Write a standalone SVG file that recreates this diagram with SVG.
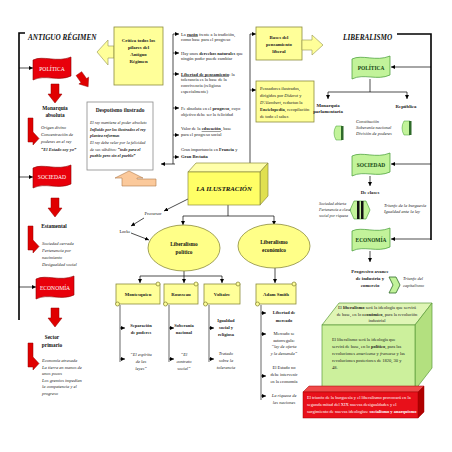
<svg xmlns="http://www.w3.org/2000/svg" width="452" height="452" viewBox="0 0 452 452">
<defs>
<style>
.t{font-family:"Liberation Serif","Times New Roman",serif;font-size:4.5px;fill:#222}
.b{font-weight:bold}
.i{font-style:italic}
.c{text-anchor:middle}
.s40{font-size:4px}
.s42{font-size:4.2px}
.s48{font-size:4.8px}
.s53{font-size:5.4px}
.s65{font-size:6.8px;fill:#111}
.lbl{font-size:5.3px;font-weight:bold;fill:#111}
.ttl{font-size:7.2px;font-weight:bold;font-style:italic;fill:#111}
.u{text-decoration:underline}
.wh{fill:#fff}
.ln{stroke:#000;stroke-width:0.7;fill:none}
.bk{stroke:#000;stroke-width:1.6;fill:none}
.gl{stroke:#9a9a9a;stroke-width:1.5;fill:none}
.yb{fill:#ffff99;stroke:#8c8c3c;stroke-width:0.8}
.rf{fill:#e8000b;stroke:#8b0000;stroke-width:0.6}
.ra{fill:#e00000;stroke:#900000;stroke-width:0.5}
.gf{fill:#c2f39a;stroke:#3f9a2f;stroke-width:0.7}
.wt{fill:#fff;font-size:5.6px}
.gt{fill:#114411;font-size:5.4px;font-weight:bold}
</style>
<marker id="a" markerWidth="4" markerHeight="4" refX="4" refY="2" orient="auto" markerUnits="userSpaceOnUse"><path d="M0,0 L4,2 L0,4 Z" fill="#000"/></marker>
<path id="flag" d="M0,3 C10,-2 24,6 38,0 L38,19 C25,25 12,17 0,23 Z"/>
<path id="darrow" d="M3,0 H11 V10 H14 L7,19 L0,10 H3 Z"/>
<path id="larrow" d="M0,0 H5 V14 L11,20.5 L5,27 V24 H0 Z"/>
</defs>
<rect width="452" height="452" fill="#fff"/>

<g id="connectors">
<path class="bk" d="M25,33 H19 V320"/>
<line class="ln" x1="19" y1="68" x2="33" y2="68" marker-end="url(#a)"/>
<line class="ln" x1="19" y1="177" x2="33" y2="177" marker-end="url(#a)"/>
<line class="ln" x1="19" y1="287" x2="36" y2="287" marker-end="url(#a)"/>
<path class="bk" d="M397,34 H431 V240"/>
<line class="ln" x1="431" y1="67" x2="391" y2="67" marker-end="url(#a)"/>
<line class="ln" x1="431" y1="164" x2="391" y2="164" marker-end="url(#a)"/>
<line class="ln" x1="431" y1="239" x2="391" y2="239" marker-end="url(#a)"/>
<line class="ln" x1="173" y1="34" x2="173" y2="164"/>
<line class="ln" x1="173" y1="34" x2="179" y2="34" marker-end="url(#a)"/>
<line class="ln" x1="173" y1="53" x2="179" y2="53" marker-end="url(#a)"/>
<line class="ln" x1="173" y1="74" x2="179" y2="74" marker-end="url(#a)"/>
<line class="ln" x1="173" y1="108" x2="179" y2="108" marker-end="url(#a)"/>
<line class="ln" x1="173" y1="135" x2="179" y2="135" marker-end="url(#a)"/>
<line class="ln" x1="173" y1="157" x2="179" y2="157" marker-end="url(#a)"/>
<line class="ln" x1="175" y1="164" x2="161" y2="164" marker-end="url(#a)"/>
<line class="ln" x1="250" y1="34" x2="250" y2="163"/>
<line class="ln" x1="250" y1="34" x2="256" y2="34" marker-end="url(#a)"/>
<line class="ln" x1="250" y1="90" x2="256" y2="90" marker-end="url(#a)"/>
<line class="ln" x1="228" y1="205" x2="228" y2="216"/>
<line class="ln" x1="183" y1="216" x2="274" y2="216"/>
<line class="ln" x1="183" y1="216" x2="183" y2="225" marker-end="url(#a)"/>
<line class="ln" x1="274" y1="216" x2="274" y2="225" marker-end="url(#a)"/>
<line class="ln" x1="188" y1="199" x2="164" y2="211" marker-end="url(#a)"/>
<line class="ln" x1="144" y1="218" x2="131" y2="226" marker-end="url(#a)"/>
<line class="ln" x1="131" y1="233" x2="149" y2="240" marker-end="url(#a)"/>
<line class="ln" x1="184" y1="271" x2="184" y2="276"/>
<line class="ln" x1="140" y1="276" x2="222" y2="276"/>
<line class="ln" x1="140" y1="276" x2="140" y2="283" marker-end="url(#a)"/>
<line class="ln" x1="184" y1="276" x2="184" y2="283" marker-end="url(#a)"/>
<line class="ln" x1="222" y1="276" x2="222" y2="283" marker-end="url(#a)"/>
<line class="ln" x1="275" y1="268" x2="275" y2="283" marker-end="url(#a)"/>
<line class="ln" x1="370" y1="79" x2="370" y2="92"/>
<line class="ln" x1="328" y1="92" x2="407" y2="92"/>
<line class="ln" x1="328" y1="92" x2="328" y2="99" marker-end="url(#a)"/>
<line class="ln" x1="407" y1="92" x2="407" y2="99" marker-end="url(#a)"/>
<line class="ln" x1="370" y1="176" x2="370" y2="186" marker-end="url(#a)"/>
<line class="ln" x1="370" y1="251" x2="370" y2="262" marker-end="url(#a)"/>
<line class="gl" x1="120" y1="305" x2="120" y2="362"/>
<line class="gl" x1="169" y1="305" x2="169" y2="362"/>
<line class="gl" x1="209" y1="305" x2="209" y2="362"/>
<line class="gl" x1="261" y1="305" x2="261" y2="400"/>
<line class="ln" x1="120" y1="328" x2="125" y2="328" marker-end="url(#a)"/>
<line class="ln" x1="120" y1="359" x2="125" y2="359" marker-end="url(#a)"/>
<line class="ln" x1="169" y1="328" x2="174" y2="328" marker-end="url(#a)"/>
<line class="ln" x1="169" y1="359" x2="174" y2="359" marker-end="url(#a)"/>
<line class="ln" x1="209" y1="328" x2="214" y2="328" marker-end="url(#a)"/>
<line class="ln" x1="209" y1="359" x2="214" y2="359" marker-end="url(#a)"/>
<line class="ln" x1="261" y1="313" x2="266" y2="313" marker-end="url(#a)"/>
<line class="ln" x1="261" y1="334" x2="266" y2="334" marker-end="url(#a)"/>
<line class="ln" x1="261" y1="376" x2="266" y2="376" marker-end="url(#a)"/>
<line class="ln" x1="261" y1="396" x2="266" y2="396" marker-end="url(#a)"/>
</g>

<g id="antiguo-regimen">
<text class="t ttl" x="28" y="40">ANTIGUO RÉGIMEN</text>
</g>

<g id="ar-politica">
<use href="#flag" class="rf" transform="translate(33,57)"/>
<text class="t wt c" x="52" y="71">POLÍTICA</text>
<use href="#darrow" class="ra" transform="translate(48,84)"/>
<use href="#darrow" class="ra" transform="translate(74,77) rotate(-35) scale(0.85)"/>
<text class="t lbl c" x="55" y="110">Monarquía</text>
<text class="t lbl c" x="55" y="117">absoluta</text>
<use href="#larrow" class="ra" transform="translate(28,118)"/>
<text class="t i" x="41" y="129">Origen divino</text>
<text class="t i" x="41" y="136">Concentración de</text>
<text class="t i" x="41" y="143">poderes en el rey</text>
<text class="t i b" x="41" y="151">“El Estado soy yo”</text>
</g>

<g id="ar-sociedad">
<use href="#flag" class="rf" transform="translate(33,165)"/>
<text class="t wt c" x="52" y="179">SOCIEDAD</text>
<use href="#darrow" class="ra" transform="translate(48,198)"/>
<text class="t lbl c" x="54" y="228">Estamental</text>
<use href="#larrow" class="ra" transform="translate(28,226)"/>
<text class="t i" x="42" y="245">Sociedad cerrada</text>
<text class="t i" x="42" y="252">Pertenencia por</text>
<text class="t i" x="42" y="259">nacimiento</text>
<text class="t i" x="42" y="266">Desigualdad social</text>
</g>

<g id="ar-economia">
<use href="#flag" class="rf" transform="translate(36,276)"/>
<text class="t wt c" x="55" y="290">ECONOMÍA</text>
<use href="#darrow" class="ra" transform="translate(48,308)"/>
<text class="t lbl c" x="52" y="339">Sector</text>
<text class="t lbl c" x="52" y="347">primario</text>
<use href="#larrow" class="ra" transform="translate(28,343)"/>
<text class="t i" x="42" y="362">Economía atrasada</text>
<text class="t i" x="42" y="368.5">La tierra en manos de</text>
<text class="t i" x="42" y="375">unos pocos</text>
<text class="t i" x="42" y="381.5">Los gremios impedían</text>
<text class="t i" x="42" y="388">la competencia y el</text>
<text class="t i" x="42" y="394.5">progreso</text>
</g>

<g id="critica">
<polygon points="97,52 108,40 108,46 114,46 114,58 108,58 108,65" fill="#ffff99" stroke="#a0a060" stroke-width="0.7"/>
<rect class="yb" x="114" y="27" width="49" height="58"/>
<text class="t b c s48" x="138.5" y="42">Crítica todos los</text>
<text class="t b c s48" x="138.5" y="49">pilares del</text>
<text class="t b c s48" x="138.5" y="56">Antiguo</text>
<text class="t b c s48" x="138.5" y="63">Régimen</text>
</g>

<g id="ideas">
<text class="t" x="181" y="35.5">La <tspan class="b u">razón</tspan> frente a la tradición,</text>
<text class="t" x="181" y="41">como base para el progreso</text>
<text class="t" x="181" y="54.5">Hay unos <tspan class="b">derechos naturales</tspan> que</text>
<text class="t" x="181" y="60">ningún poder puede cambiar</text>
<text class="t" x="181" y="75.5"><tspan class="b u">Libertad de pensamiento</tspan>: la</text>
<text class="t" x="181" y="81">tolerancia es la base de la</text>
<text class="t" x="181" y="87">convivencia (religiosa</text>
<text class="t" x="181" y="93">especialmente)</text>
<text class="t" x="181" y="109.5">Fe absoluta en el <tspan class="b">progreso</tspan>, cuyo</text>
<text class="t" x="181" y="115.5">objetivo debe ser la felicidad</text>
<text class="t" x="181" y="130">Valor de la <tspan class="b u">educación</tspan>, base</text>
<text class="t" x="181" y="136">para el progreso social</text>
<text class="t" x="181" y="151">Gran importancia en <tspan class="b">Francia</tspan> y</text>
<text class="t b" x="181" y="158">Gran Bretaña</text>
</g>

<g id="despotismo">
<rect x="87" y="102" width="66" height="68" fill="#fff" stroke="#8a8a8a" stroke-width="0.8"/>
<text class="t b c s53" x="120" y="112">Despotismo ilustrado</text>
<text class="t i s42" x="90" y="124">El rey mantiene el poder absoluto</text>
<text class="t i b s42" x="90" y="130.5">Influido por los ilustrados el rey</text>
<text class="t i b s42" x="90" y="137">plantea reformas</text>
<text class="t i s42" x="90" y="144">El rey debe velar por la felicidad</text>
<text class="t i s42" x="90" y="150.5">de sus súbditos: <tspan class="b">“todo para el</tspan></text>
<text class="t i b s42" x="90" y="157">pueblo pero sin el pueblo”</text>
<polygon points="115,178 129,171 143,178 137,178 137,179 156,179 156,186 122,186 122,178" fill="#fbc99b" stroke="#b07a4a" stroke-width="0.6"/>
</g>

<g id="bases">
<rect class="yb" x="256" y="27" width="46" height="33"/>
<polygon points="302,40 312,40 312,35 323,45 312,55 312,50 302,50" fill="#ffff99" stroke="#a0a060" stroke-width="0.7"/>
<text class="t b c s48" x="279" y="39">Bases del</text>
<text class="t b c s48" x="279" y="46">pensamiento</text>
<text class="t b c s48" x="279" y="53">liberal</text>
</g>

<g id="pensadores">
<rect class="yb" x="256" y="81" width="58" height="41"/>
<text class="t" x="260" y="90">Pensadores ilustrados,</text>
<text class="t" x="260" y="97">dirigidos por <tspan class="i">Diderot</tspan> y</text>
<text class="t" x="260" y="104"><tspan class="i">D'Alembert</tspan>, redactan la</text>
<text class="t" x="260" y="111"><tspan class="b">Enciclopedia</tspan>, recopilación</text>
<text class="t" x="260" y="118">de todo el saber.</text>
</g>

<g id="ilustracion">
<polygon points="188,172 196,163 268,163 260,172" fill="#ffffaa" stroke="#8c8c3c" stroke-width="0.7"/>
<polygon points="260,172 268,163 268,196 260,205" fill="#e0e050" stroke="#8c8c3c" stroke-width="0.7"/>
<rect x="188" y="172" width="72" height="33" fill="#ffff66" stroke="#8c8c3c" stroke-width="0.7"/>
<text class="t i b c s65" x="224" y="191">LA ILUSTRACIÓN</text>
</g>

<g id="precursor">
<text class="t c" x="153" y="215">Precursor</text>
</g>
<g id="locke">
<text class="t c" x="125" y="233">Locke</text>
</g>

<g id="lib-politico">
<ellipse cx="184" cy="248" rx="36" ry="23" fill="#ffff88" stroke="#8c8c3c" stroke-width="0.8"/>
<text class="t lbl c" x="184" y="246">Liberalismo</text>
<text class="t lbl c" x="184" y="254">político</text>
</g>

<g id="lib-economico">
<ellipse cx="274" cy="246" rx="36" ry="22" fill="#ffff88" stroke="#8c8c3c" stroke-width="0.8"/>
<text class="t lbl c" x="274" y="244">Liberalismo</text>
<text class="t lbl c" x="274" y="252">económico</text>
</g>

<g id="montesquieu">
<rect class="yb" x="116" y="284" width="44" height="20"/>
<circle cx="158" cy="284" r="2" class="yb"/><circle cx="117.5" cy="304" r="2" class="yb"/>
<text class="t b c s48" x="138" y="296">Montesquieu</text>
<text class="t b c" x="141" y="327">Separación</text>
<text class="t b c" x="141" y="334">de poderes</text>
<text class="t i c" x="141" y="356">“El espíritu</text>
<text class="t i c" x="141" y="363">de las</text>
<text class="t i c" x="141" y="370">leyes”</text>
</g>

<g id="rousseau">
<rect class="yb" x="164" y="284" width="34" height="20"/>
<circle cx="196" cy="284" r="2" class="yb"/><circle cx="165.5" cy="304" r="2" class="yb"/>
<text class="t b c s48" x="181" y="296">Rousseau</text>
<text class="t b c" x="184" y="327">Soberanía</text>
<text class="t b c" x="184" y="334">nacional</text>
<text class="t i c" x="184" y="356">“El</text>
<text class="t i c" x="184" y="363">contrato</text>
<text class="t i c" x="184" y="370">social”</text>
</g>

<g id="voltaire">
<rect class="yb" x="204" y="284" width="36" height="20"/>
<circle cx="238" cy="284" r="2" class="yb"/><circle cx="205.5" cy="304" r="2" class="yb"/>
<text class="t b c s48" x="222" y="296">Voltaire</text>
<text class="t b c" x="226" y="322">Igualdad</text>
<text class="t b c" x="226" y="329">social y</text>
<text class="t b c" x="226" y="336">religiosa</text>
<text class="t i c" x="226" y="355">Tratado</text>
<text class="t i c" x="226" y="362">sobre la</text>
<text class="t i c" x="226" y="369">tolerancia</text>
</g>

<g id="adam-smith">
<rect class="yb" x="256" y="284" width="40" height="20"/>
<circle cx="294" cy="284" r="2" class="yb"/><circle cx="257.5" cy="304" r="2" class="yb"/>
<text class="t b c s48" x="276" y="296">Adam Smith</text>
<text class="t b c" x="284" y="314">Libertad de</text>
<text class="t b c" x="284" y="322">mercado</text>
<text class="t c" x="284" y="335">Mercado se</text>
<text class="t c" x="284" y="341.5">autorregula:</text>
<text class="t i c" x="284" y="348">“ley de oferta</text>
<text class="t i c" x="284" y="354.5">y la demanda”</text>
<text class="t c" x="284" y="369">El Estado no</text>
<text class="t c" x="284" y="376">debe intervenir</text>
<text class="t c" x="284" y="383">en la economía</text>
<text class="t i c" x="284" y="397">La riqueza de</text>
<text class="t i c" x="284" y="404">las naciones</text>
</g>

<g id="liberalismo">
<text class="t ttl" x="343" y="40">LIBERALISMO</text>
</g>

<g id="lib-politica">
<use href="#flag" class="gf" transform="translate(352,56)"/>
<text class="t gt c" x="371" y="70">POLÍTICA</text>
<text class="t b c s48" x="328" y="107">Monarquía</text>
<text class="t b c s48" x="328" y="113">parlamentaria</text>
<text class="t b c s48" x="406" y="108">República</text>
<path d="M336,126 H342 V140 H336 Q332,133 336,126 Z" fill="#c2f39a" stroke="#3f9a2f" stroke-width="0.5"/>
<rect x="341" y="126" width="2.5" height="14" fill="#2f6a2a"/>
<path d="M404,121 H410 V135 H404 Q400,128 404,121 Z" fill="#c2f39a" stroke="#3f9a2f" stroke-width="0.5"/>
<rect x="409" y="121" width="2.5" height="14" fill="#2f6a2a"/>
<text class="t i" x="356" y="123">Constitución</text>
<text class="t i" x="356" y="129">Soberanía nacional</text>
<text class="t i" x="356" y="135">División de poderes</text>
</g>

<g id="lib-sociedad">
<use href="#flag" class="gf" transform="translate(352,153)"/>
<text class="t gt c" x="371" y="167">SOCIEDAD</text>
<text class="t b c s48" x="370" y="194">De clases</text>
<path d="M350,210 L354,201 H366 L370,210 L366,219 H354 Z" fill="#c2f39a" stroke="#3f9a2f" stroke-width="0.6"/>
<rect x="357" y="201" width="2.5" height="18" fill="#111"/>
<rect x="361" y="201" width="2.5" height="18" fill="#111"/>
<text class="t i s40" x="319" y="205">Sociedad abierta</text>
<text class="t i s40" x="319" y="211">Pertenencia a clase</text>
<text class="t i s40" x="319" y="217">social por riqueza</text>
<text class="t i" x="384" y="207">Triunfo de la burguesía</text>
<text class="t i" x="384" y="213">Igualdad ante la ley</text>
</g>

<g id="lib-economia">
<use href="#flag" class="gf" transform="translate(352,228)"/>
<text class="t gt c" x="371" y="242">ECONOMÍA</text>
<text class="t b c s48" x="370" y="273">Progresivo avance</text>
<text class="t b c s48" x="370" y="280">de industria y</text>
<text class="t b c s48" x="370" y="287">comercio</text>
<path d="M389,277 H396 L400,285 L396,293 H389 L393,285 Z" fill="#c2f39a" stroke="#2f6a2a" stroke-width="0.8"/>
<text class="t i" x="403" y="280">Triunfo del</text>
<text class="t i" x="403" y="287">capitalismo</text>
</g>

<g id="conclusion-box">
<polygon points="322,325 339,303 432,303 415,325" fill="#dff5b5" stroke="#5a9a3a" stroke-width="0.7"/>
<polygon points="415,325 432,303 432,368 415,390" fill="#b3e07f" stroke="#5a9a3a" stroke-width="0.7"/>
<rect x="322" y="325" width="93" height="65" fill="#ccf09c" stroke="#5a9a3a" stroke-width="0.7"/>
<text class="t c" x="377" y="309">El <tspan class="b">liberalismo</tspan> será la ideología que servirá</text>
<text class="t c" x="377" y="315.5">de base, en lo <tspan class="b">económico</tspan>, para la revolución</text>
<text class="t c" x="377" y="322">industrial</text>
<text class="t" x="332" y="341">El liberalismo será la ideología que</text>
<text class="t" x="332" y="348">servirá de base, en lo <tspan class="b">político</tspan>, para las</text>
<text class="t" x="332" y="355">revoluciones <tspan class="i">americana</tspan> y <tspan class="i">francesa</tspan> y las</text>
<text class="t" x="332" y="362">revoluciones posteriores de 1820, 30 y</text>
<text class="t" x="332" y="369">48.</text>
</g>

<g id="consecuencia">
<polygon points="303,392 309,386 424,386 418,392" fill="#f04a4a" stroke="#a00000" stroke-width="0.5"/>
<polygon points="418,392 424,386 424,412 418,418" fill="#b00000" stroke="#a00000" stroke-width="0.5"/>
<rect x="303" y="392" width="115" height="26" fill="#e8101a" stroke="#a00000" stroke-width="0.5"/>
<text class="t wh" x="307" y="399">El triunfo de la burguesía y el liberalismo provocará en la</text>
<text class="t wh" x="307" y="406">segunda mitad del XIX nuevas desigualdades y el</text>
<text class="t wh" x="307" y="413">surgimiento de nuevas ideologías: <tspan class="b">socialismo y anarquismo</tspan></text>
</g>
</svg>
